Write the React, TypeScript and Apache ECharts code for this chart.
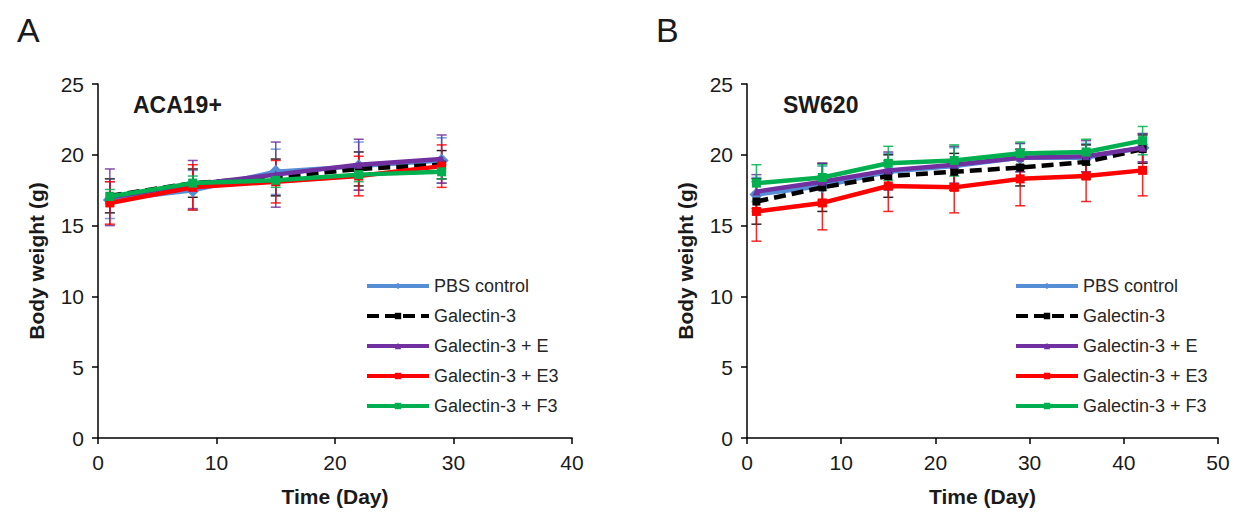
import React, { useEffect, useRef } from "react";
import * as echarts from "echarts";

const NAMES = ["PBS control", "Galectin-3", "Galectin-3 + E", "Galectin-3 + E3", "Galectin-3 + F3"];
const COLORS = ["#558ED5", "#000000", "#7030A0", "#FF0000", "#00B050"];
const SYMBOLS = ["diamond", "rect", "triangle", "rect", "rect"];
const SYMBOL_SIZES = [14, 8, 8, 9, 9];

const DAYS_A = [1, 8, 15, 22, 29];
const A_PBS = [16.8, 17.5, 18.8, 19.2, 19.6];
const A_GAL = [17.1, 18.0, 18.4, 19.0, 19.3];
const A_GAL_E = [17.0, 17.9, 18.6, 19.3, 19.7];
const A_GAL_E3 = [16.6, 17.7, 18.1, 18.5, 19.2];
const A_GAL_F3 = [17.05, 18.0, 18.2, 18.6, 18.8];
const A_ERR_PBS = [1.3, 1.4, 1.6, 1.7, 1.6];
const A_ERR_GAL = [1.2, 1.0, 1.3, 1.2, 1.0];
const A_ERR_GAL_E = [2.0, 1.7, 2.3, 1.8, 1.7];
const A_ERR_GAL_E3 = [1.5, 1.6, 1.5, 1.4, 1.5];
const A_ERR_GAL_F3 = [0.5, 0.5, 0.5, 0.5, 0.5];

const DAYS_B = [1, 8, 15, 22, 29, 36, 42];
const B_PBS = [17.2, 17.8, 18.8, 19.2, 19.8, 19.8, 20.5];
const B_GAL = [16.7, 17.7, 18.5, 18.8, 19.1, 19.5, 20.4];
const B_GAL_E = [17.4, 18.1, 18.9, 19.3, 19.8, 19.9, 20.5];
const B_GAL_E3 = [16.0, 16.6, 17.8, 17.7, 18.3, 18.5, 18.9];
const B_GAL_F3 = [18.0, 18.4, 19.4, 19.6, 20.1, 20.2, 21.0];
const B_ERR_PBS = [1.2, 1.4, 1.3, 1.3, 1.0, 1.0, 1.0];
const B_ERR_GAL = [1.6, 1.7, 1.5, 1.3, 1.3, 1.2, 1.0];
const B_ERR_GAL_E = [1.2, 1.3, 1.3, 1.3, 1.0, 1.1, 1.0];
const B_ERR_GAL_E3 = [2.1, 1.9, 1.8, 1.8, 1.9, 1.8, 1.8];
const B_ERR_GAL_F3 = [1.3, 0.9, 1.2, 1.1, 0.8, 0.9, 1.0];

const Y_TICKS = [0, 5, 10, 15, 20, 25];

const PANELS = [
  {
    days: DAYS_A,
    values: [A_PBS, A_GAL, A_GAL_E, A_GAL_E3, A_GAL_F3],
    errors: [A_ERR_PBS, A_ERR_GAL, A_ERR_GAL_E, A_ERR_GAL_E3, A_ERR_GAL_F3],
    xMax: 40,
  },
  {
    days: DAYS_B,
    values: [B_PBS, B_GAL, B_GAL_E, B_GAL_E3, B_GAL_F3],
    errors: [B_ERR_PBS, B_ERR_GAL, B_ERR_GAL_E, B_ERR_GAL_E3, B_ERR_GAL_F3],
    xMax: 50,
  },
];

const FONT = "'Liberation Sans', Arial, sans-serif";
const TEXT = "#1a1a1a";

export default function App() {
  const ref = useRef<HTMLDivElement>(null);

  useEffect(() => {
    if (!ref.current) return;
    const chart = echarts.init(ref.current, null, { renderer: "svg" });

    const grids = [
      { left: 98, top: 84, width: 474, height: 356.5 },
      { left: 747, top: 84, width: 471, height: 356.5 },
    ];

    const xAxes = PANELS.map((p, i) => ({
      type: "value",
      gridIndex: i,
      min: 0,
      max: p.xMax,
      interval: 10,
      name: "Time (Day)",
      nameLocation: "middle",
      nameGap: 48,
      nameTextStyle: { fontFamily: FONT, fontSize: 21, fontWeight: "bold", color: TEXT },
      axisLine: { lineStyle: { color: "#000", width: 1.5 } },
      axisTick: { show: true, inside: false, length: 6, lineStyle: { color: "#000", width: 1.5 } },
      axisLabel: { fontFamily: FONT, fontSize: 21, color: TEXT, margin: 14 },
      splitLine: { show: false },
    }));

    const yAxes = PANELS.map((_p, i) => ({
      type: "value",
      gridIndex: i,
      min: Y_TICKS[0],
      max: Y_TICKS[Y_TICKS.length - 1],
      interval: Y_TICKS[1] - Y_TICKS[0],
      name: "Body weight (g)",
      nameLocation: "middle",
      nameGap: 51,
      nameTextStyle: { fontFamily: FONT, fontSize: 21, fontWeight: "bold", color: TEXT },
      axisLine: { show: true, lineStyle: { color: "#000", width: 1.5 } },
      axisTick: { show: true, inside: false, length: 6, lineStyle: { color: "#000", width: 1.5 } },
      axisLabel: { fontFamily: FONT, fontSize: 21, color: TEXT, margin: 14 },
      splitLine: { show: false },
    }));

    const series: any[] = [];
    PANELS.forEach((p, pi) => {
      NAMES.forEach((name, si) => {
        const data = p.days.map((d, k) => [d, p.values[si][k] - p.errors[si][k], p.values[si][k] + p.errors[si][k]]);
        series.push({
          type: "custom",
          name: name + " error",
          xAxisIndex: pi,
          yAxisIndex: pi,
          z: 1,
          silent: true,
          data,
          renderItem: (params: any, api: any) => {
            const x = api.value(0);
            const lo = api.coord([x, api.value(1)]);
            const hi = api.coord([x, api.value(2)]);
            const w = 5;
            const style = { stroke: COLORS[si], lineWidth: 1.5, opacity: 0.85 };
            return {
              type: "group",
              children: [
                { type: "line", shape: { x1: lo[0], y1: lo[1], x2: hi[0], y2: hi[1] }, style },
                { type: "line", shape: { x1: hi[0] - w, y1: hi[1], x2: hi[0] + w, y2: hi[1] }, style },
                { type: "line", shape: { x1: lo[0] - w, y1: lo[1], x2: lo[0] + w, y2: lo[1] }, style },
              ],
            };
          },
        });
      });
      NAMES.forEach((name, si) => {
        series.push({
          type: "line",
          name,
          xAxisIndex: pi,
          yAxisIndex: pi,
          z: 2 + si,
          data: p.days.map((d, k) => [d, p.values[si][k]]),
          symbol: SYMBOLS[si],
          symbolSize: SYMBOL_SIZES[si],
          showSymbol: true,
          itemStyle: { color: COLORS[si] },
          lineStyle: {
            color: COLORS[si],
            width: 4.5,
            type: si === 1 ? [12, 6] : "solid",
          },
        });
      });
    });

    const legendCommon = {
      orient: "vertical",
      data: NAMES,
      itemWidth: 62,
      itemHeight: 8,
      itemGap: 12,
      selectedMode: false,
      lineStyle: { width: 4 },
      textStyle: { fontFamily: FONT, fontSize: 18, color: "#262626", lineHeight: 18 },
    };

    chart.setOption({
      animation: false,
      backgroundColor: "#fff",
      title: [
        { text: "A", left: 12, top: 8, textStyle: { fontFamily: FONT, fontSize: 34, fontWeight: "normal", color: TEXT } },
        { text: "B", left: 651, top: 8, textStyle: { fontFamily: FONT, fontSize: 34, fontWeight: "normal", color: TEXT } },
        { text: "ACA19+", left: 128, top: 88, textStyle: { fontFamily: FONT, fontSize: 23, fontWeight: "bold", color: TEXT } },
        { text: "SW620", left: 778, top: 88, textStyle: { fontFamily: FONT, fontSize: 23, fontWeight: "bold", color: TEXT } },
      ],
      grid: grids,
      xAxis: xAxes,
      yAxis: yAxes,
      legend: [
        { ...legendCommon, left: 360, top: 272 },
        { ...legendCommon, left: 1009, top: 272 },
      ],
      series,
    });

    return () => chart.dispose();
  }, []);

  return (
    <div
      ref={ref}
      style={{ position: "fixed", left: 0, top: 0, width: 1235, height: 512, background: "#fff" }}
    />
  );
}
